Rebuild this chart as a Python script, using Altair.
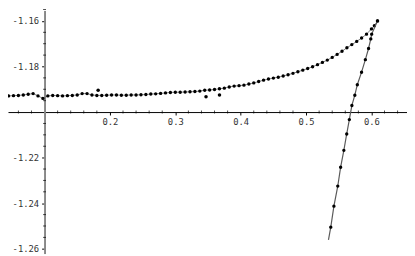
import altair as alt
import pandas as pd

# upper branch
x_upper = [0.045, 0.0525, 0.060, 0.0675, 0.075, 0.0825, 0.090, 0.0975, 0.105, 0.1125,
           0.120, 0.1275, 0.135, 0.1425, 0.150, 0.1575, 0.165, 0.1725, 0.180, 0.1875,
           0.195, 0.2025, 0.210, 0.2175, 0.225, 0.2325, 0.240, 0.2475, 0.255, 0.2625,
           0.270, 0.2775, 0.285, 0.2925, 0.300, 0.3075, 0.315, 0.3225, 0.330, 0.3375,
           0.345, 0.3525, 0.360, 0.3675, 0.375, 0.3825, 0.390, 0.3975, 0.405, 0.4125,
           0.420, 0.4275, 0.435, 0.4425, 0.450, 0.4575, 0.465, 0.4725, 0.480, 0.4875,
           0.495, 0.5025, 0.510, 0.5175, 0.525, 0.5325, 0.540, 0.5475, 0.555, 0.5625,
           0.570, 0.5775, 0.585, 0.5925, 0.600, 0.6045, 0.6093]
y_upper = [-1.1929, -1.1928, -1.1927, -1.1925, -1.1922, -1.1919, -1.1929, -1.1940, -1.1929, -1.1927,
           -1.1928, -1.1929, -1.1928, -1.1927, -1.1925, -1.1919, -1.1919, -1.1925, -1.1927, -1.1927,
           -1.1926, -1.1925, -1.1925, -1.1926, -1.1926, -1.1925, -1.1925, -1.1924, -1.1923, -1.1921,
           -1.1920, -1.1918, -1.1916, -1.1914, -1.1913, -1.1913, -1.1912, -1.1911, -1.1910, -1.1908,
           -1.1904, -1.1903, -1.1901, -1.1898, -1.1895, -1.1890, -1.1886, -1.1884, -1.1882, -1.1877,
           -1.1872, -1.1866, -1.1860, -1.1855, -1.1851, -1.1847, -1.1842, -1.1836, -1.1830, -1.1823,
           -1.1816, -1.1809, -1.1801, -1.1792, -1.1782, -1.1772, -1.1760, -1.1747, -1.1733, -1.1718,
           -1.1704, -1.1690, -1.1675, -1.1658, -1.1635, -1.1621, -1.1600]

# stray points
x_outlier = [0.182, 0.347, 0.3676]
y_outlier = [-1.1904, -1.1933, -1.1925]

# steep branch (markers)
x_steep = [0.6093, 0.6004, 0.5990, 0.5956, 0.5907, 0.5849, 0.5784, 0.5746, 0.5701,
           0.5662, 0.5622, 0.5578, 0.5529, 0.5485, 0.5426, 0.5378]
y_steep = [-1.1600, -1.1658, -1.1679, -1.1721, -1.1770, -1.1825, -1.1880, -1.1926, -1.1971,
           -1.2033, -1.2096, -1.2168, -1.2242, -1.2325, -1.2413, -1.2505]
# lower end of the steep branch's line
x_steep_end = [0.5343]
y_steep_end = [-1.2561]

x_major = [0.2, 0.3, 0.4, 0.5, 0.6]
y_major = [-1.26, -1.24, -1.22, -1.18, -1.16]
x_minor = [0.06, 0.08, 0.12, 0.14, 0.16, 0.18, 0.22, 0.24, 0.26, 0.28, 0.32, 0.34, 0.36, 0.38,
           0.42, 0.44, 0.46, 0.48, 0.52, 0.54, 0.56, 0.58, 0.62, 0.64]
y_minor = [-1.255, -1.25, -1.245, -1.235, -1.23, -1.225, -1.215, -1.21, -1.205,
           -1.195, -1.19, -1.185, -1.175, -1.17, -1.165, -1.155]

W, H = 407, 248
x_dom = [0.0441, 0.6544]
y_dom = [-1.2621, -1.1554]
x_origin, y_origin = 0.1, -1.2
ax_px = (x_origin - x_dom[0]) / (x_dom[1] - x_dom[0]) * W
ay_px = (y_dom[1] - y_origin) / (y_dom[1] - y_dom[0]) * H

font = "DejaVu Sans Mono"
xs = alt.Scale(domain=x_dom, nice=False, zero=False)
ys = alt.Scale(domain=y_dom, nice=False, zero=False)
x_axis = alt.Axis(values=x_major, offset=-(H - ay_px), domainColor="black", domainWidth=1,
                  tickColor="black", tickSize=3, labelFont=font, labelFontSize=9,
                  labelColor="#333", labelPadding=3, grid=False, title=None, format=".1f",
                  labelFlush=False, labelOverlap=False)
y_axis = alt.Axis(values=y_major, offset=-ax_px, domainColor="#888", domainWidth=2,
                  tickColor="black", tickSize=3, labelFont=font, labelFontSize=9,
                  labelColor="#333", labelPadding=3, grid=False, title=None,
                  labelExpr="'-' + format(abs(datum.value), '.2f')",
                  labelFlush=False, labelOverlap=False)

up = pd.DataFrame({"x": x_upper, "y": y_upper})
out = pd.DataFrame({"x": x_outlier, "y": y_outlier})
st = pd.DataFrame({"x": x_steep, "y": y_steep})
st_line = pd.DataFrame({"x": x_steep + x_steep_end, "y": y_steep + y_steep_end})
xm = pd.DataFrame({"x": x_minor})
ym = pd.DataFrame({"y": y_minor})

X = alt.X("x:Q", scale=xs, axis=x_axis)
Y = alt.Y("y:Q", scale=ys, axis=y_axis)

line_up = alt.Chart(up).mark_line(color="#808080", strokeWidth=1).encode(x=X, y=Y, order="x:Q")
pts_up = alt.Chart(up).mark_point(filled=True, color="black", size=12, opacity=1).encode(x=X, y=Y)
pts_out = alt.Chart(out).mark_point(filled=True, color="black", size=13, opacity=1).encode(x=X, y=Y)
line_st = alt.Chart(st_line).mark_line(color="#5a5a5a", strokeWidth=1.2).encode(
    x=X, y=Y, order=alt.Order("y:Q"))
pts_st = alt.Chart(st).mark_point(filled=True, color="black", size=12, opacity=1).encode(x=X, y=Y)
tick_x = alt.Chart(xm).mark_tick(orient="vertical", size=3, thickness=1, color="black").encode(
    x=X, y=alt.datum(y_origin, scale=ys, axis=y_axis))
tick_y = alt.Chart(ym).mark_tick(orient="horizontal", size=3, thickness=1, color="black").encode(
    y=Y, x=alt.datum(x_origin, scale=xs, axis=x_axis))

chart = alt.layer(line_up, pts_up, pts_out, line_st, pts_st, tick_x, tick_y).properties(
    width=W, height=H, autosize=alt.AutoSizeParams(type="none"), padding=0,
    background="white"
).configure_view(stroke=None)

chart.save("out.html", embed_options={"renderer": "svg", "actions": False})
